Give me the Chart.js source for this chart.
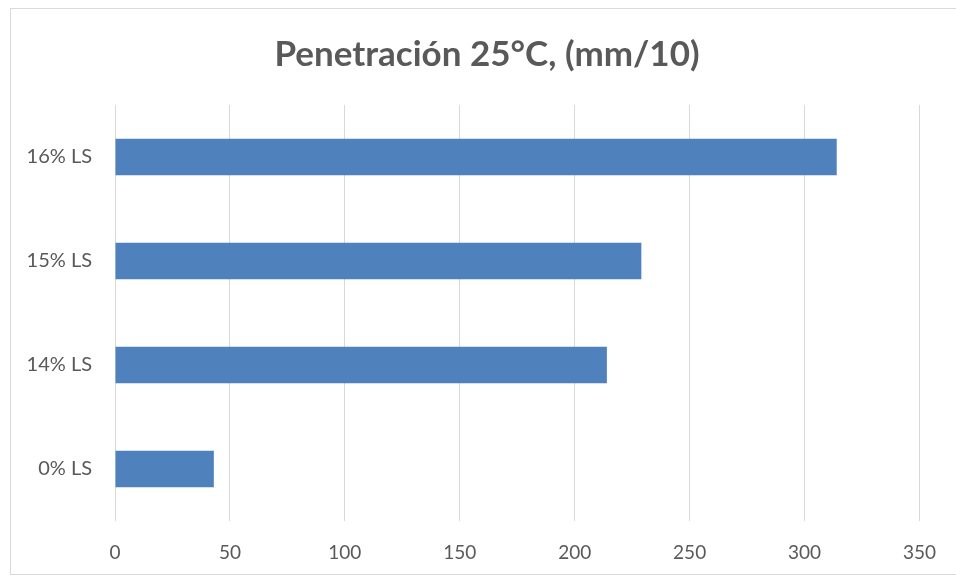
<!DOCTYPE html>
<html>
<head>
<meta charset="utf-8">
<script src="https://cdn.jsdelivr.net/npm/chart.js@4/dist/chart.umd.min.js"></script>
<style>
  html, body { margin: 0; padding: 0; background: #ffffff; }
  #wrap { position: relative; width: 956px; height: 578px; overflow: hidden; }
  #frame { position: absolute; left: 10px; top: 8px; width: 960px; height: 567px;
           border: 1px solid #d9d9d9; box-sizing: border-box; }
  canvas { position: absolute; left: 0; top: 0; }
</style>
</head>
<body>
<div id="wrap">
  <div id="frame"></div>
  <canvas id="chart" width="956" height="578"></canvas>
</div>
<script>
// Categories (top to bottom as drawn) and penetration values
const categories = ['16% LS', '15% LS', '14% LS', '0% LS'];
const penetration = [314, 229, 214, 43];
const axisMax = 350;
const axisStep = 50;

const textColor = '#595959';
const fontFamily = 'Lato, "Open Sans", sans-serif';

// Centre the title over the whole framed area rather than the padded layout box
const titleShift = {
  id: 'titleShift',
  afterLayout(chart) {
    const t = chart.titleBlock;
    if (t) { t.left += 27; t.right += 27; }
  }
};

new Chart(document.getElementById('chart'), {
  type: 'bar',
  data: {
    labels: categories,
    datasets: [{
      data: penetration,
      backgroundColor: '#4f81bd',
      borderWidth: 0,
      categoryPercentage: 1.0,
      barPercentage: 0.353
    }]
  },
  plugins: [titleShift],
  options: {
    indexAxis: 'y',
    responsive: false,
    animation: false,
    devicePixelRatio: 1,
    layout: { padding: { left: 0, right: 36, top: 0, bottom: 0 } },
    plugins: {
      legend: { display: false },
      tooltip: { enabled: false },
      title: {
        display: true,
        text: 'Penetración 25°C, (mm/10)',
        color: textColor,
        font: { family: fontFamily, size: 35, weight: 'bold' },
        padding: { top: 34, bottom: 29 }
      }
    },
    scales: {
      x: {
        min: 0,
        max: axisMax,
        ticks: {
          stepSize: axisStep,
          color: textColor,
          font: { family: fontFamily, size: 19 },
          padding: 20
        },
        grid: { color: '#d9d9d9', lineWidth: 1, drawTicks: false },
        border: { display: false },
        afterFit: (scale) => { scale.height = 57; }
      },
      y: {
        ticks: {
          color: textColor,
          font: { family: fontFamily, size: 20 },
          padding: 23
        },
        grid: { display: false, drawTicks: false },
        border: { display: false },
        afterFit: (scale) => { scale.width = 115; }
      }
    }
  }
});
</script>
</body>
</html>
